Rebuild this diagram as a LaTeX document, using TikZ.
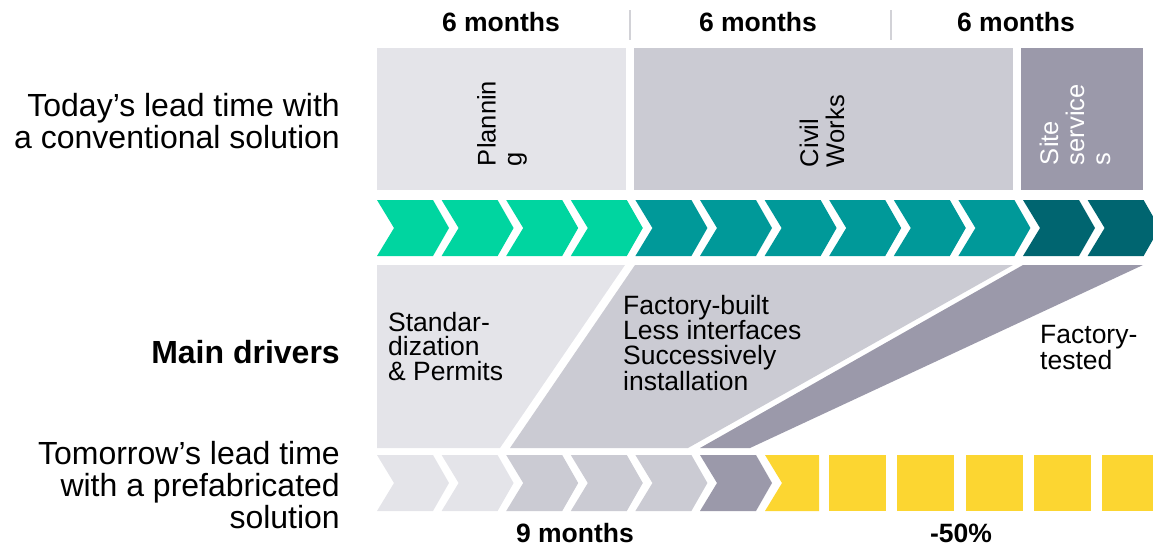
\documentclass[tikz,border=0pt]{standalone}
\usepackage{fontspec}
\setmainfont{Liberation Sans}
\usepackage{tikz}

\definecolor{cLight}{RGB}{228,228,233}
\definecolor{cMid}{RGB}{203,203,211}
\definecolor{cDark}{RGB}{155,153,170}
\definecolor{cGreen}{RGB}{0,213,160}
\definecolor{cTeal}{RGB}{0,153,153}
\definecolor{cDeep}{RGB}{0,101,112}
\definecolor{cYellow}{RGB}{252,214,49}
\definecolor{cSep}{RGB}{210,210,215}

\tikzset{
  rowlabel/.style={anchor=east, align=right, inner sep=0pt, font=\fontsize{32}{32}\selectfont},
  span/.style={inner sep=0pt, font=\bfseries\fontsize{26.5}{28}\selectfont},
  phase/.style={rotate=90, text width=94pt, align=left, inner sep=0pt, font=\fontsize{25.5}{26}\selectfont},
  driver/.style={anchor=base west, align=left, inner sep=0pt, font=\fontsize{26.5}{24.5}\selectfont}
}

\begin{document}
\begin{tikzpicture}[x=1pt, y=-1pt]
    \useasboundingbox (0,0) rectangle (1153,547);

    % Row labels
    \node[rowlabel] (today) at (340,121) {Today's lead time with\\a conventional solution};
    \node[rowlabel, font=\bfseries\fontsize{32}{32}\selectfont] (drivers) at (340,352) {Main drivers};
    \node[rowlabel] (tomorrow) at (340,485) {Tomorrow's lead time\\with a prefabricated\\solution};

    % Durations on top
    \node[span] (m1) at (501,22) {6 months};
    \node[span] (m2) at (758,22) {6 months};
    \node[span] (m3) at (1016,22) {6 months};
    \draw[cSep, line width=1.2pt] (630,10) -- (630,40);
    \draw[cSep, line width=1.2pt] (891,10) -- (891,40);

    % Phase bars
    \fill[cLight] (377,48) rectangle (626,190);
    \fill[cMid] (634,48) rectangle (1013,190);
    \fill[cDark] (1021,48) rectangle (1143,190);
    \node[phase] (plan) at (502,119) {Plannin\\g};
    \node[phase] (civil) at (822,120) {Civil\\Works};
    \node[phase, text=white] (site) at (1075,118) {Site\\service\\s};

    % Chevrons, conventional
    \foreach \i/\c in {0/cGreen,1/cGreen,2/cGreen,3/cGreen,4/cTeal,5/cTeal,6/cTeal,7/cTeal,8/cTeal,9/cTeal,10/cDeep,11/cDeep}
        \fill[\c] ({377+64.6*\i},200) -- ++(56,0) -- ++(16,28) -- ++(-16,28) -- ++(-56,0) -- ++(17,-28) -- cycle;

    % Drivers
    \fill[cLight] (377,265) -- (625,265) -- (500,448) -- (377,448) -- cycle;
    \fill[cMid] (635,265) -- (1013,265) -- (688,448) -- (510,448) -- cycle;
    \fill[cDark] (1023,265) -- (1143,265) -- (750,448) -- (700,448) -- cycle;
    \node[driver] (std) at (388,380) {Standar-\\dization\\\& Permits};
    \node[driver] (fab) at (623,390) {Factory-built\\Less interfaces\\Successively\\installation};
    \node[driver] (test) at (1040,369) {Factory-\\tested};

    % Chevrons, prefabricated
    \foreach \i/\c in {0/cLight,1/cLight,2/cMid,3/cMid,4/cMid,5/cDark}
        \fill[\c] ({377+64.6*\i},455) -- ++(56,0) -- ++(16,28) -- ++(-16,28) -- ++(-56,0) -- ++(17,-28) -- cycle;

    % Saved time
    \fill[cYellow] (765,455) -- (819,455) -- (819,511) -- (765,511) -- (782,483) -- cycle;
    \foreach \i in {0,...,4}
        \fill[cYellow] ({829+68.3*\i},455) rectangle ++(57,56);

    \node[span] (m9) at (575,533) {9 months};
    \node[span] (cut) at (961,533) {-50\%};
\end{tikzpicture}
\end{document}
